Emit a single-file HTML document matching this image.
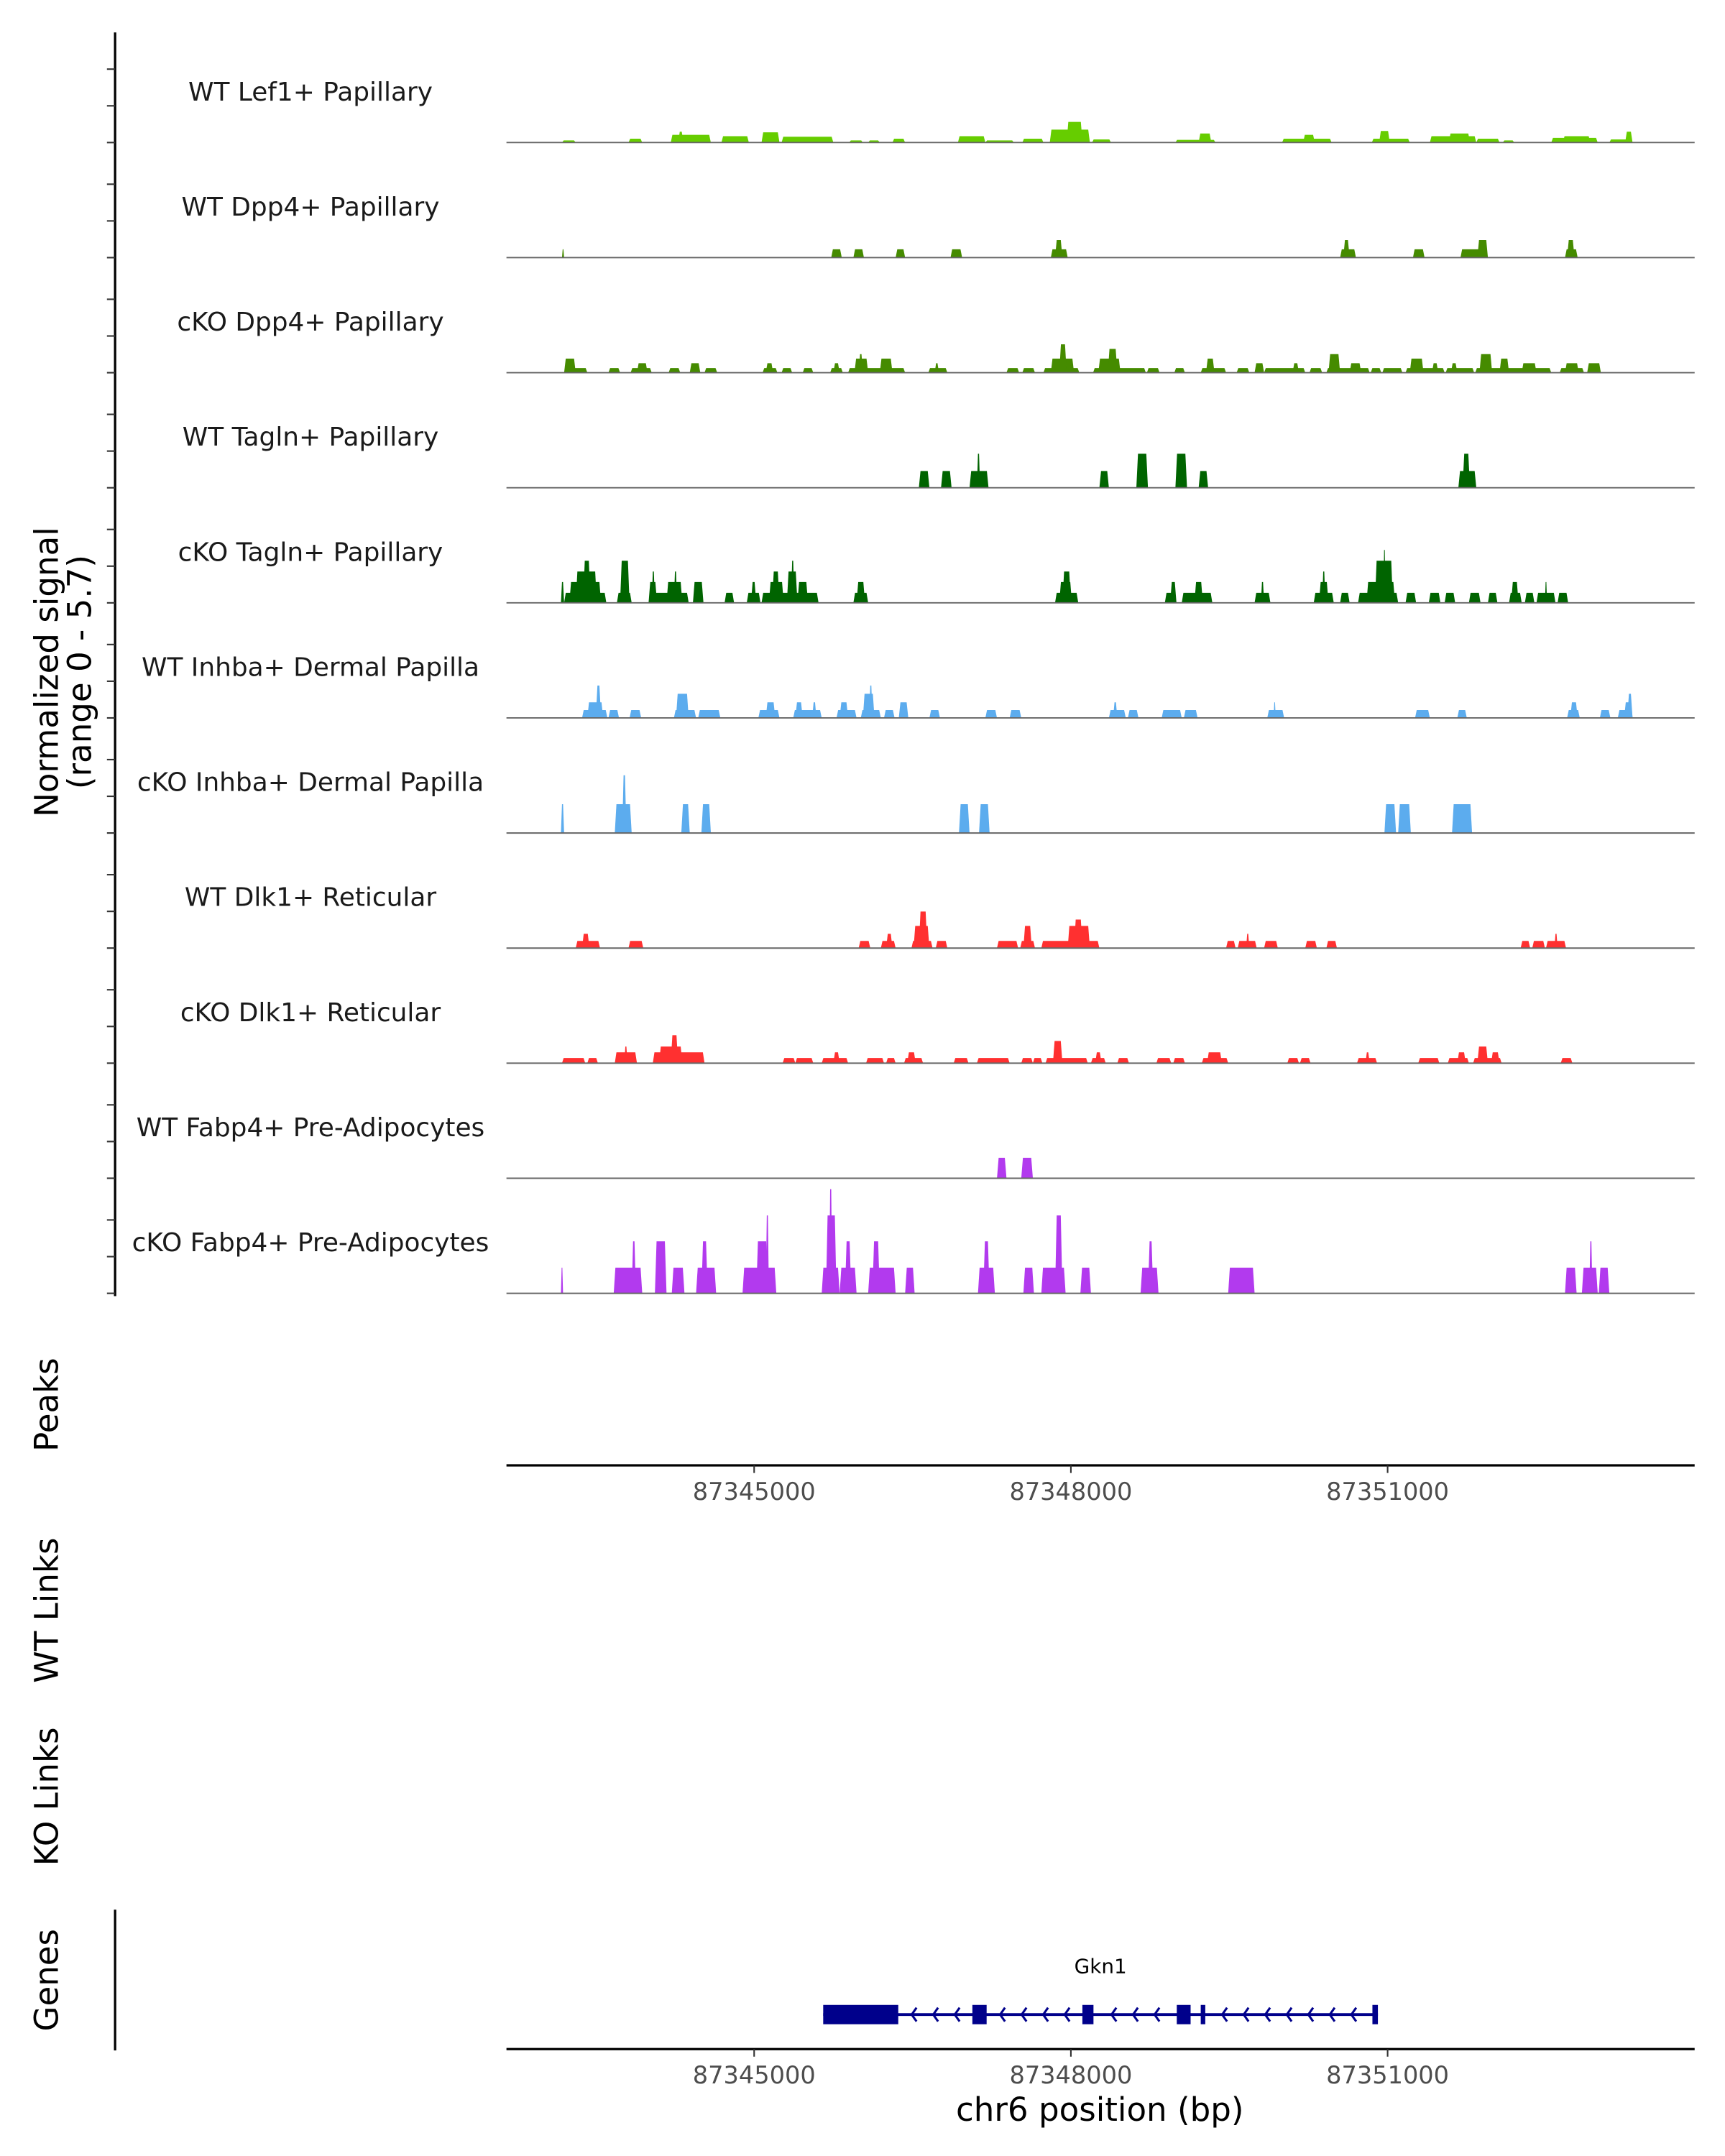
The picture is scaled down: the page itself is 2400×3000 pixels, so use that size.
<!DOCTYPE html>
<html><head><meta charset="utf-8"><style>
html,body{margin:0;padding:0;background:#fff;}
svg{display:block;font-family:"DejaVu Sans","Liberation Sans",sans-serif;}
</style></head><body>
<svg id="chart" xmlns="http://www.w3.org/2000/svg" width="2400" height="3000" viewBox="0 0 1250 1562.5">
<g id="axes"></g>
<g id="tracks"></g>
<g id="genes"></g>
<text x="42" y="487" transform="rotate(-90 42 487)" text-anchor="middle" font-size="23.5" fill="#000">Normalized signal</text>
<text x="66" y="487" transform="rotate(-90 66 487)" text-anchor="middle" font-size="23.5" fill="#000">(range 0 - 5.7)</text>
<text x="42" y="1018" transform="rotate(-90 42 1018)" text-anchor="middle" font-size="23.5">Peaks</text>
<text x="42" y="1167" transform="rotate(-90 42 1167)" text-anchor="middle" font-size="23.5">WT Links</text>
<text x="42" y="1302" transform="rotate(-90 42 1302)" text-anchor="middle" font-size="23.5">KO Links</text>
<text x="42" y="1435" transform="rotate(-90 42 1435)" text-anchor="middle" font-size="23.5">Genes</text>
<text x="797" y="1537" text-anchor="middle" font-size="23.5">chr6 position (bp)</text>
</svg>
<script>
// ---- data ----
const regionStart = 87342630; // peak offsets are bp from this position
const trackLabels = ["WT Lef1+ Papillary","WT Dpp4+ Papillary","cKO Dpp4+ Papillary","WT Tagln+ Papillary","cKO Tagln+ Papillary","WT Inhba+ Dermal Papilla","cKO Inhba+ Dermal Papilla","WT Dlk1+ Reticular","cKO Dlk1+ Reticular","WT Fabp4+ Pre-Adipocytes","cKO Fabp4+ Pre-Adipocytes"];
const trackColors = ["#66CD00","#458B00","#458B00","#006400","#006400","#5CACEE","#5CACEE","#FF3030","#FF3030","#B23AEE","#B23AEE"];
// [startOffset, endOffset, signal]
const wtLef1 = [[550,680,0.11],[1180,1310,0.2],[1580,1960,0.4],[1650,1700,0.56],[2060,2320,0.33],[2440,2610,0.53],[2630,3120,0.3],[3270,3400,0.11],[3450,3560,0.11],[3680,3800,0.2],[4300,4560,0.33],[4560,4830,0.11],[4910,5110,0.2],[5170,5550,0.67],[5330,5480,1.07],[5570,5750,0.16],[6360,6740,0.14],[6580,6700,0.47],[7370,7840,0.2],[7570,7680,0.4],[8220,8580,0.2],[8290,8390,0.6],[8770,9210,0.33],[8950,9150,0.47],[9210,9430,0.2],[9460,9570,0.11],[9920,10360,0.24],[10030,10290,0.33],[10470,10690,0.16],[10620,10690,0.56]];
const wtDpp4 = [[550,570,0.43],[3100,3200,0.43],[3310,3410,0.43],[3710,3800,0.43],[4230,4340,0.43],[5180,5340,0.43],[5220,5290,0.91],[7920,8070,0.43],[7950,8010,0.91],[8610,8720,0.43],[9060,9320,0.43],[9220,9320,0.91],[10050,10170,0.43],[10070,10140,0.91]];
const koDpp4 = [[570,790,0.24],[570,680,0.73],[990,1100,0.24],[1200,1400,0.24],[1260,1360,0.49],[1560,1670,0.24],[1760,1860,0.49],[1900,2020,0.24],[2450,2590,0.24],[2480,2550,0.49],[2630,2730,0.24],[2830,2930,0.24],[3090,3210,0.24],[3120,3180,0.49],[3260,3800,0.24],[3320,3450,0.73],[3560,3680,0.73],[3360,3400,0.96],[4020,4200,0.24],[4080,4120,0.49],[4760,4880,0.24],[4910,5030,0.24],[5110,5450,0.24],[5180,5400,0.73],[5260,5330,1.47],[5580,6080,0.24],[5630,5840,0.73],[5720,5810,1.23],[6090,6210,0.24],[6350,6450,0.24],[6600,6840,0.24],[6650,6730,0.73],[6940,7060,0.24],[7110,7200,0.49],[7200,7590,0.24],[7470,7530,0.49],[7630,7750,0.24],[7790,8200,0.24],[7810,7920,0.96],[8010,8120,0.49],[8210,8310,0.24],[8320,8510,0.24],[8540,8910,0.24],[8580,8710,0.73],[8790,8850,0.49],[8920,9190,0.24],[8970,9030,0.49],[9200,9920,0.24],[9240,9360,0.96],[9430,9520,0.73],[9640,9780,0.49],[10000,10230,0.24],[10050,10180,0.49],[10260,10390,0.49]];
const wtTagln = [[3930,4030,0.87],[4140,4240,0.87],[4410,4590,0.87],[4480,4510,1.76],[5640,5730,0.87],[5990,6100,1.76],[6360,6470,1.76],[6580,6670,0.87],[9040,9210,0.87],[9080,9150,1.76]];
const koTagln = [[540,570,1.08],[570,970,0.52],[620,920,1.08],[680,880,1.62],[750,820,2.18],[1070,1210,0.52],[1100,1190,2.18],[1370,1750,0.52],[1370,1450,1.08],[1400,1430,1.62],[1540,1690,1.08],[1610,1640,1.62],[1790,1890,1.08],[2090,2180,0.52],[2300,2430,0.52],[2340,2390,1.08],[2440,2980,0.52],[2510,2650,1.08],[2540,2610,1.62],[2680,2780,1.62],[2720,2750,2.18],[2780,2880,1.08],[3310,3450,0.52],[3340,3420,1.08],[5220,5440,0.52],[5260,5380,1.08],[5290,5370,1.62],[6260,6370,0.52],[6310,6370,1.08],[6420,6710,0.52],[6540,6620,1.08],[7110,7260,0.52],[7170,7200,1.08],[7670,7860,0.52],[7720,7810,1.08],[7750,7780,1.62],[7920,8010,0.52],[8090,8470,0.52],[8170,8440,1.08],[8250,8420,2.18],[8330,8350,2.74],[8540,8640,0.52],[8760,8870,0.52],[8910,9010,0.52],[9140,9250,0.52],[9320,9410,0.52],[9520,9640,0.52],[9540,9610,1.08],[9670,9760,0.52],[9780,9960,0.52],[9860,9880,1.08],[9980,10080,0.52]];
const wtInhba = [[740,980,0.41],[790,940,0.81],[870,920,1.68],[990,1090,0.41],[1190,1300,0.41],[1610,1820,0.41],[1630,1750,1.25],[1840,2050,0.41],[2410,2610,0.41],[2480,2570,0.81],[2740,3010,0.41],[2760,2830,0.81],[2920,2960,0.81],[3150,3340,0.41],[3180,3260,0.81],[3380,3570,0.41],[3400,3510,1.25],[3460,3490,1.68],[3600,3700,0.41],[3740,3830,0.81],[4030,4130,0.41],[4560,4670,0.41],[4790,4900,0.41],[5730,5890,0.41],[5770,5810,0.81],[5910,6010,0.41],[6230,6420,0.41],[6440,6570,0.41],[7230,7390,0.41],[7290,7310,0.81],[8630,8770,0.41],[9030,9120,0.41],[10070,10190,0.41],[10100,10170,0.81],[10380,10480,0.41],[10550,10690,0.41],[10610,10690,0.81],[10640,10690,1.25]];
const koInhba = [[540,570,1.49],[1050,1210,1.49],[1120,1160,2.99],[1680,1760,1.49],[1870,1960,1.49],[4310,4410,1.49],[4500,4600,1.49],[8340,8450,1.49],[8470,8590,1.49],[8980,9170,1.49]];
const wtDlk1 = [[680,910,0.37],[740,810,0.74],[1180,1320,0.37],[3360,3470,0.37],[3570,3710,0.37],[3620,3680,0.74],[3860,4060,0.37],[3880,4030,1.15],[3930,4010,1.89],[4090,4200,0.37],[4670,4870,0.37],[4890,5030,0.37],[4920,5000,1.15],[5090,5640,0.37],[5340,5550,1.15],[5400,5480,1.48],[6840,6930,0.37],[6950,7130,0.37],[7030,7060,0.74],[7200,7330,0.37],[7590,7700,0.37],[7790,7890,0.37],[9630,9720,0.37],[9740,9860,0.37],[9870,10060,0.37],[9950,9980,0.74]];
const koDlk1 = [[550,770,0.27],[790,890,0.27],[1050,1260,0.56],[1140,1170,0.86],[1410,1900,0.56],[1470,1690,0.86],[1580,1650,1.45],[2640,2760,0.27],[2760,2930,0.27],[3010,3260,0.27],[3120,3180,0.56],[3430,3600,0.27],[3620,3710,0.27],[3790,3970,0.27],[3820,3900,0.56],[4260,4400,0.27],[4480,4790,0.27],[4900,5010,0.27],[5010,5100,0.27],[5130,5530,0.27],[5200,5290,1.15],[5560,5700,0.27],[5600,5660,0.56],[5810,5920,0.27],[6180,6320,0.27],[6340,6450,0.27],[6610,6860,0.27],[6660,6800,0.56],[7420,7530,0.27],[7540,7640,0.27],[8080,8270,0.27],[8160,8200,0.56],[8660,8860,0.27],[8940,9140,0.27],[9030,9110,0.56],[9180,9450,0.27],[9220,9320,0.86],[9350,9430,0.56],[10010,10120,0.27]];
const wtFabp4 = [[4670,4760,1.06],[4900,5010,1.06]];
const koFabp4 = [[540,560,1.33],[1040,1310,1.33],[1210,1250,2.69],[1430,1540,2.69],[1590,1710,1.33],[1820,2010,1.33],[1870,1930,2.69],[2260,2580,1.33],[2390,2500,2.69],[2480,2510,4.03],[3010,3180,1.33],[3050,3150,4.03],[3080,3110,5.39],[3180,3340,1.33],[3230,3290,2.69],[3450,3710,1.33],[3490,3560,2.69],[3800,3890,1.33],[4490,4650,1.33],[4540,4600,2.69],[4920,5020,1.33],[5090,5320,1.33],[5220,5290,4.03],[5460,5560,1.33],[6030,6200,1.33],[6100,6150,2.69],[6860,7110,1.33],[10050,10160,1.33],[10210,10360,1.33],[10280,10310,2.69],[10370,10470,1.33]];
const xTicks = [87345000, 87348000, 87351000];
const geneName = "Gkn1";
const geneRange = [87345654, 87350908];
const exonStarts = [87345654, 87347067, 87348109, 87349003, 87349230, 87350856];
const exonEnds   = [87346365, 87347202, 87348214, 87349134, 87349273, 87350908];

// ---- scales ----
const NS = "http://www.w3.org/2000/svg";
const domain = [87342654, 87353908], range = [367, 1228];
function xs(bp){ return range[0] + (bp - domain[0]) / (domain[1] - domain[0]) * (range[1] - range[0]); }
const base0 = 103.3, trackStep = 83.4, pxPerUnit = 14.0;
function baseY(i){ return base0 + i * trackStep; }
function ys(i, v){ return baseY(i) - v * pxPerUnit; }
function mk(tag, attrs, parent){ const e = document.createElementNS(NS, tag); for (const k in attrs) e.setAttribute(k, attrs[k]); parent.appendChild(e); return e; }

const axes = document.getElementById('axes');
const tracksG = document.getElementById('tracks');
const genesG = document.getElementById('genes');
const allTracks = [wtLef1, wtDpp4, koDpp4, wtTagln, koTagln, wtInhba, koInhba, wtDlk1, koDlk1, wtFabp4, koFabp4];

// signal axis
let ax = mk('line', {x1:83.4, x2:83.4, y1:ys(0,5.7), y2:baseY(10)+2, stroke:'#000', 'stroke-width':1.7}, axes);


allTracks.forEach((peaks, i) => {
  [0, 1.9, 3.8].forEach(v => {
    const t = mk('line', {x1:77.5, x2:83.4, y1:ys(i,v), y2:ys(i,v), stroke:'#333', 'stroke-width':1.1}, axes);
    
    
  });
  const g = mk('g', {}, tracksG);
  
  
  const lab = mk('text', {x:225, y:baseY(i) - 30.5, 'text-anchor':'middle', 'font-size':18.7, fill:'#1a1a1a'}, g);
  lab.textContent = trackLabels[i];
  
  
  peaks.forEach(p => {
    const x0 = xs(regionStart + p[0]), x1 = xs(regionStart + p[1]);
    const yb = baseY(i), yt = ys(i, p[2]);
    const k = Math.min(1.2, (x1 - x0) / 3);
    const poly = mk('polygon', {points:`${x0},${yb} ${x0+k},${yt} ${x1-k},${yt} ${x1},${yb}`, fill:trackColors[i]}, g);
    
    
  });
  const bl = mk('line', {x1:range[0], x2:range[1], y1:baseY(i), y2:baseY(i), stroke:'#666', 'stroke-width':1}, g);
  
  
});

// x axes (peaks panel and genes panel)
[[1062, 'peaks-x-axis'], [1485, 'genes-x-axis']].forEach(([y, nm]) => {
  const l = mk('line', {x1:range[0], x2:range[1], y1:y, y2:y, stroke:'#000', 'stroke-width':1.7}, axes);
  
  
  xTicks.forEach(t => {
    const tk = mk('line', {x1:xs(t), x2:xs(t), y1:y, y2:y+5.5, stroke:'#333', 'stroke-width':1.1}, axes);
    
    
    const tl = mk('text', {x:xs(t), y:y+25, 'text-anchor':'middle', 'font-size':17.5, fill:'#4D4D4D'}, axes);
    tl.textContent = String(t);
    
    
  });
});
let ga = mk('line', {x1:83.4, x2:83.4, y1:1384, y2:1486, stroke:'#000', 'stroke-width':1.7}, axes);



// gene model
const gy = 1460, navy = '#00008B';
const gl = mk('line', {x1:xs(geneRange[0]), x2:xs(geneRange[1]), y1:gy, y2:gy, stroke:navy, 'stroke-width':2}, genesG);


for (let i = 0; i < exonStarts.length; i++) {
  const r = mk('rect', {x:xs(exonStarts[i]), y:gy-7, width:Math.max(2, xs(exonEnds[i]) - xs(exonStarts[i])), height:14, fill:navy}, genesG);
  
  
  if (i < exonStarts.length - 1) {
    const a = xs(exonEnds[i]), b = xs(exonStarts[i+1]);
    const n = Math.floor((b - a) / 15.6);
    const off = (b - a - (n - 1) * 15.6) / 2;
    for (let j = 0; j < n; j++) {
      const cx = a + off + j * 15.6;
      const ch = mk('polyline', {points:`${cx+2},${gy-5} ${cx-1.5},${gy} ${cx+2},${gy+5}`, fill:'none', stroke:navy, 'stroke-width':1.6}, genesG);
      
      
    }
  }
}
const gn = mk('text', {x:(xs(geneRange[0]) + xs(geneRange[1])) / 2, y:1430, 'text-anchor':'middle', 'font-size':14.5, fill:'#000'}, genesG);
gn.textContent = geneName;


</script>
</body></html>
